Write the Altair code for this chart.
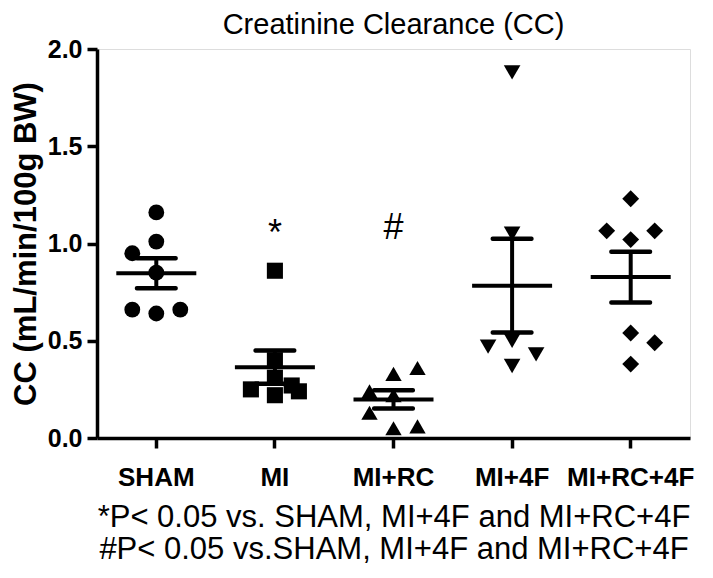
import altair as alt
import pandas as pd

groups = ["SHAM", "MI", "MI+RC", "MI+4F", "MI+RC+4F"]
shapes = ["circle", "square", "triangle-up", "triangle-down", "diamond"]
marker_sizes = [250, 285, 260, 300, 480]

sham_vals = [1.16, 1.01, 0.95, 0.85, 0.66, 0.64, 0.66]
sham_dx = [0, 0, -1, 0, -1, 0, 1]
mi_vals = [0.86, 0.40, 0.31, 0.22, 0.25, 0.27, 0.24]
mi_dx = [0, 0, 0, 0, -1, 0.7, 1]
mirc_vals = [0.36, 0.33, 0.24, 0.22, 0.13, 0.05, 0.06]
mirc_dx = [1, 0, -1, 0, -1, 0, 1]
mi4f_vals = [1.88, 1.05, 0.50, 0.47, 0.37, 0.43]
mi4f_dx = [0, 0, 0, -1, 0, 1]
mirc4f_vals = [1.23, 1.065, 1.065, 1.02, 0.54, 0.49, 0.38]
mirc4f_dx = [0, -1, 1, 0, 0, 1, 0]

sig_groups = ["MI", "MI+RC"]
sig_marks = ["*", "#"]
sig_y = [1.05, 1.08]

footnotes = ["*P< 0.05 vs. SHAM, MI+4F and MI+RC+4F",
             "#P< 0.05 vs.SHAM, MI+4F and MI+RC+4F"]

all_vals = [sham_vals, mi_vals, mirc_vals, mi4f_vals, mirc4f_vals]
all_dx = [sham_dx, mi_dx, mirc_dx, mi4f_dx, mirc4f_dx]
rows = []
for g, vals, dxs in zip(groups, all_vals, all_dx):
    for v, d in zip(vals, dxs):
        rows.append({"group": g, "cc": v, "dx": d})
df = pd.DataFrame(rows)
sig_df = pd.DataFrame({"group": sig_groups, "mark": sig_marks, "y": sig_y})

FONT = "Liberation Sans"
W, H = 593, 389
half = (W / len(groups)) / 2 / 24.0

xenc = alt.X("group:N", sort=groups,
             scale=alt.Scale(domain=groups, paddingInner=0, paddingOuter=0),
             axis=alt.Axis(title=footnotes, labelAngle=0, labelFont=FONT,
                           labelFontSize=26, labelFontWeight="bold", labelColor="black",
                           labelPadding=16, tickSize=10, tickWidth=3.5, tickColor="black",
                           domainWidth=3.5, domainColor="black",
                           titleFont=FONT, titleFontSize=31, titleFontWeight="normal",
                           titleColor="black", titleLineHeight=32, titlePadding=12))
yscale = alt.Scale(domain=[0, 2], nice=False, zero=True)
yaxis = alt.Axis(title="CC (mL/min/100g BW)", values=[0, 0.5, 1.0, 1.5, 2.0], format=".1f",
                 labelFont=FONT, labelFontSize=25, labelFontWeight="bold", labelColor="black",
                 labelPadding=5, tickSize=10, tickWidth=3.5, tickColor="black",
                 domainWidth=3.5, domainColor="black", grid=False,
                 titleFont=FONT, titleFontSize=31, titleFontWeight="bold", titleColor="black",
                 titlePadding=5)

points = alt.Chart(df).mark_point(filled=True, color="black", opacity=1).encode(
    x=xenc,
    xOffset=alt.XOffset("dx:Q", scale=alt.Scale(domain=[-half, half])),
    y=alt.Y("cc:Q", scale=yscale, axis=yaxis),
    shape=alt.Shape("group:N", scale=alt.Scale(domain=groups, range=shapes), legend=None),
    size=alt.Size("group:O", scale=alt.Scale(domain=groups, range=marker_sizes), legend=None),
)

stats = alt.Chart(df).transform_aggregate(
    m="mean(cc)", se="stderr(cc)", groupby=["group"]
).transform_calculate(lo="datum.m - datum.se", hi="datum.m + datum.se")

mean_tick = stats.mark_tick(color="black", size=80, thickness=4, opacity=1).encode(
    x=alt.X("group:N", sort=groups), y=alt.Y("m:Q", scale=yscale))
hi_tick = stats.mark_tick(color="black", size=43, thickness=4.5, opacity=1, cornerRadius=2).encode(
    x=alt.X("group:N", sort=groups), y=alt.Y("hi:Q", scale=yscale))
lo_tick = stats.mark_tick(color="black", size=43, thickness=4.5, opacity=1, cornerRadius=2).encode(
    x=alt.X("group:N", sort=groups), y=alt.Y("lo:Q", scale=yscale))
sem_rule = stats.mark_rule(color="black", strokeWidth=4).encode(
    x=alt.X("group:N", sort=groups), y=alt.Y("lo:Q", scale=yscale), y2="hi:Q")

sig = alt.Chart(sig_df).mark_text(font=FONT, fontSize=36, color="black", baseline="middle").encode(
    x=alt.X("group:N", sort=groups), y=alt.Y("y:Q", scale=yscale), text="mark:N")

chart = alt.layer(points, sem_rule, mean_tick, hi_tick, lo_tick, sig).properties(
    width=W, height=H,
    title=alt.TitleParams("Creatinine Clearance (CC)", font=FONT, fontSize=29,
                          fontWeight="normal", color="black", anchor="middle", offset=-3),
    autosize=alt.AutoSizeParams(type="none"),
    padding={"left": 89, "top": 41, "right": 15, "bottom": 132},
).configure_view(stroke=None).configure(background="white")

chart.save("out.html", embed_options={"renderer": "svg", "actions": False})
